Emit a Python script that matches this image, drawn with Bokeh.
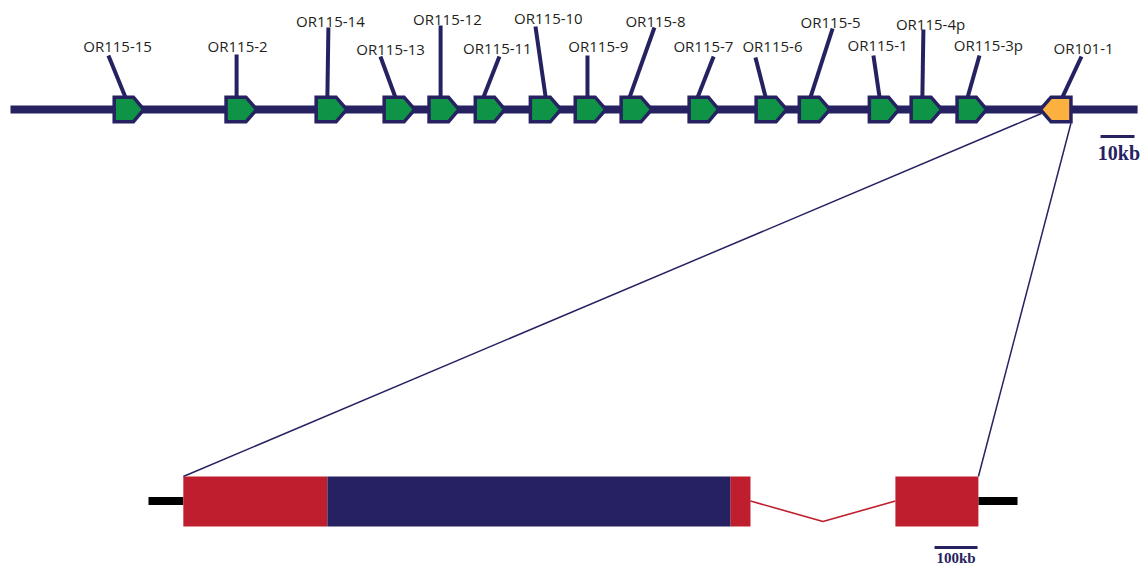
from bokeh.plotting import figure
from bokeh.models import Range1d
from bokeh.core.properties import value
from bokeh.embed import file_html
from bokeh.resources import INLINE

# ---------------- data: the OR gene cluster (positions in kb) ----------------
gene_names = ["OR115-15", "OR115-2", "OR115-14", "OR115-13", "OR115-12", "OR115-11",
              "OR115-10", "OR115-9", "OR115-8", "OR115-7", "OR115-6", "OR115-5",
              "OR115-1", "OR115-4p", "OR115-3p", "OR101-1"]
gene_start_kb = [30.5, 63.4, 89.9, 109.9, 123.1, 136.7, 152.9, 166.1, 179.6, 199.6,
                 219.3, 232.0, 252.6, 264.9, 278.4, 302.9]
gene_end_kb = [39.2, 72.4, 98.9, 118.9, 131.9, 145.4, 161.9, 175.1, 188.6, 208.3,
               228.3, 241.0, 261.3, 273.9, 287.1, 311.9]
gene_strand = ["+"] * 15 + ["-"]
gene_family = ["OR115"] * 15 + ["OR101"]
locus_kb = [0.0, 331.5]
scale_bar_kb = [320.6, 330.6]
scale_bar_label = "10kb"

# ---------------- data: zoomed structure of OR101-1 (kb) ----------------
flank_left_kb = [0, 81]
utr5_kb = [81, 416]
cds_kb = [416, 1353]
utr3_exon1_kb = [1353, 1400]
intron_kb = [1400, 1737]
exon2_kb = [1737, 1930]
flank_right_kb = [1930, 2021]
zoom_scale_bar_kb = [1828, 1928]
zoom_scale_label = "100kb"

# ---------------- layout (not data) ----------------
W, H = 1141, 567
X0, X1 = -2.941, 332.647          # main range (kb)
Z0, Z1 = -344.186, 2309.302       # zoom range (kb)
TRACK_Y = 109
HALF_H = 12.3
TIP_FRAC = 0.35
label_x_kb = [31.5, 66.8, 94.1, 111.8, 128.5, 143.2, 158.2, 172.9, 189.7, 203.8,
              224.1, 241.2, 255.0, 270.6, 287.6, 315.6]
label_y = [45, 45, 20, 48, 18, 47, 17, 45, 20, 45, 45, 21, 44, 23, 44, 47]
lead_top_x_kb = [28.8, 66.5, 93.5, 108.8, 126.5, 143.8, 154.4, 169.7, 189.4, 206.8,
                 219.1, 241.8, 253.8, 268.5, 285.0, 315.0]
lead_top_y = [55, 54, 27, 56, 25, 56, 26, 55, 27, 56, 57, 28, 55, 29, 55, 56]
lead_bot_x_kb = [33.8, 66.5, 93.2, 113.2, 126.5, 139.1, 157.4, 169.7, 182.1, 202.1,
                 222.1, 235.3, 255.6, 268.2, 281.5, 309.4]

NAVY = "#262262"
GREEN = "#0F9447"
ORANGE = "#FBB040"
RED = "#BE1E2D"
TEXT = "#231F20"

p = figure(width=W, height=H, output_backend="svg", toolbar_location=None,
           x_range=Range1d(X0, X1), y_range=Range1d(start=H, end=0),
           x_axis_location=None, y_axis_location=None, min_border=0,
           background_fill_color="white", border_fill_color="white")
p.extra_x_ranges = {"zoom": Range1d(Z0, Z1)}
p.grid.visible = False
p.outline_line_color = None

# backbone
p.segment(x0=[locus_kb[0]], y0=[TRACK_Y], x1=[locus_kb[1]], y1=[TRACK_Y],
          line_color=NAVY, line_width=8)

# leader lines
p.segment(x0=lead_top_x_kb, y0=lead_top_y, x1=lead_bot_x_kb,
          y1=[TRACK_Y - HALF_H] * len(gene_names), line_color=NAVY, line_width=4)

# gene arrows
xs, ys, fills = [], [], []
yt, yb = TRACK_Y - HALF_H, TRACK_Y + HALF_H
for s, e, strand, fam in zip(gene_start_kb, gene_end_kb, gene_strand, gene_family):
    L = e - s
    if strand == "+":
        xs.append([s, e - TIP_FRAC * L, e, e - TIP_FRAC * L, s])
        ys.append([yt, yt, TRACK_Y, yb, yb])
    else:
        xs.append([s, s + TIP_FRAC * L, e, e, s + TIP_FRAC * L])
        ys.append([TRACK_Y, yt, yt, yb, yb])
    fills.append(GREEN if fam == "OR115" else ORANGE)
p.patches(xs=xs, ys=ys, fill_color=fills, line_color=NAVY, line_width=3.5,
          line_join="miter")

# labels
p.text(x=label_x_kb, y=label_y, text=gene_names, text_font=value("Open Sans"),
       text_font_size="15px", text_color=TEXT, text_align="center",
       text_baseline="middle")

# scale bar
p.segment(x0=[scale_bar_kb[0]], y0=[136], x1=[scale_bar_kb[1]], y1=[136],
          line_color=NAVY, line_width=3)
p.text(x=[(scale_bar_kb[0] + scale_bar_kb[1]) / 2 + 0.4], y=[152], text=[scale_bar_label],
       text_font=value("Liberation Sans Narrow"), text_font_style="bold",
       text_font_size="20px", text_color=NAVY, text_align="center",
       text_baseline="middle")

# ---- zoom connector lines (map zoom coords to main coords) ----
def zoom_to_main(z):
    return X0 + (z - Z0) * (X1 - X0) / (Z1 - Z0)

ox = gene_start_kb[-1]
oe = gene_end_kb[-1]
p.segment(x0=[ox + 0.3, oe], y0=[TRACK_Y + 4, yb + 1.5],
          x1=[zoom_to_main(utr5_kb[0]), zoom_to_main(exon2_kb[1])], y1=[476, 476],
          line_color=NAVY, line_width=1.5)

# ---- zoomed gene structure ----
BOX_T, BOX_B, MID = 476, 526, 500.5
p.segment(x0=[flank_left_kb[0], flank_right_kb[0]], y0=[MID, MID],
          x1=[flank_left_kb[1], flank_right_kb[1]], y1=[MID, MID],
          line_color="black", line_width=8, x_range_name="zoom")
mid_intron = (intron_kb[0] + intron_kb[1]) / 2
p.line(x=[intron_kb[0], mid_intron, intron_kb[1]], y=[MID, 521, MID],
       line_color=RED, line_width=1.6, x_range_name="zoom")
p.quad(left=[utr5_kb[0], utr3_exon1_kb[0], exon2_kb[0]],
       right=[utr5_kb[1], utr3_exon1_kb[1], exon2_kb[1]],
       top=[BOX_T] * 3, bottom=[BOX_B] * 3, fill_color=RED, line_color=None,
       x_range_name="zoom")
p.quad(left=[cds_kb[0]], right=[cds_kb[1]], top=[BOX_T], bottom=[BOX_B],
       fill_color=NAVY, line_color=None, x_range_name="zoom")

# zoom scale bar
p.segment(x0=[zoom_scale_bar_kb[0]], y0=[547], x1=[zoom_scale_bar_kb[1]], y1=[547],
          line_color=NAVY, line_width=3, x_range_name="zoom")
p.text(x=[(zoom_scale_bar_kb[0] + zoom_scale_bar_kb[1]) / 2], y=[557], text=[zoom_scale_label],
       text_font=value("Liberation Sans Narrow"), text_font_style="bold",
       text_font_size="15px", text_color=NAVY, text_align="center",
       text_baseline="middle", x_range_name="zoom")

open("out.html", "w").write(file_html(p, INLINE))
